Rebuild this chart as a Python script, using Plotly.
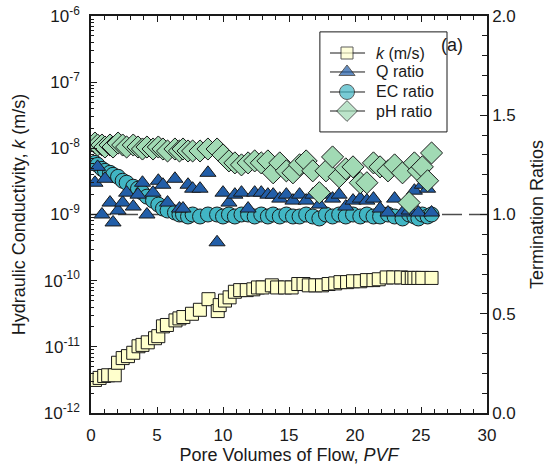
import plotly.graph_objects as go

# Hydraulic conductivity vs pore volumes of flow
k_pvf = [0.3, 0.65, 1.0, 1.3, 1.8, 2.05, 2.4, 2.8, 3.2, 3.6,
         3.9, 4.3, 4.85, 5.1, 5.45, 5.75, 6.4, 6.7, 7.0, 7.65,
         8.25, 8.9, 9.6, 9.75, 10.15, 10.5, 10.9, 11.3, 11.8, 12.3,
         12.65, 13.0, 13.7, 14.1, 14.7, 15.2, 15.7, 16.1, 16.5, 17.0,
         17.5, 18.0, 18.5, 18.9, 19.4, 19.85, 20.4, 20.9, 21.4, 21.8,
         22.4, 22.9, 23.5, 24.0, 24.3, 24.5, 24.8, 25.1, 25.8]
k_values = [3.16e-12, 3.39e-12, 3.63e-12, 3.72e-12, 3.72e-12, 5.75e-12, 6.76e-12, 7.24e-12, 8.13e-12, 1.02e-11,
            1.07e-11, 1.17e-11, 1.35e-11, 1.45e-11, 2.04e-11, 2.14e-11, 2.51e-11, 2.69e-11, 2.82e-11, 3.16e-11,
            3.63e-11, 5.25e-11, 3.47e-11, 4.27e-11, 5.0e-11, 5.6e-11, 6.8e-11, 7.2e-11, 7.2e-11, 7.4e-11,
            7.9e-11, 7.9e-11, 8.5e-11, 7.9e-11, 7.9e-11, 7.9e-11, 8.9e-11, 8.9e-11, 8.5e-11, 8.5e-11,
            8.5e-11, 8.9e-11, 9.1e-11, 9.5e-11, 9.5e-11, 9.8e-11, 9.8e-11, 1.02e-10, 1.02e-10, 1.05e-10,
            1.12e-10, 1.12e-10, 1.12e-10, 1.10e-10, 1.10e-10, 1.10e-10, 1.10e-10, 1.10e-10, 1.10e-10]

# Termination ratios (outflow/inflow) vs pore volumes of flow
ratio_pvf = [0.3, 0.5, 0.83, 1.06, 1.44, 1.67, 2.05, 2.4, 2.7, 3.2,
             3.56, 3.9, 4.24, 4.7, 5.1, 5.45, 5.8, 6.36, 6.7, 6.97,
             7.35, 7.7, 8.26, 8.86, 9.55, 10.0, 10.45, 10.9, 11.4, 11.9,
             12.4, 12.9, 13.4, 13.8, 14.3, 14.8, 15.3, 15.8, 16.3, 16.8,
             17.3, 17.8, 18.3, 18.8, 19.3, 19.85, 20.4, 20.9, 21.4, 21.9,
             22.5, 23.0, 23.6, 24.1, 24.5, 24.8, 25.1, 25.5, 25.8]
q_ratio = [1.16, 1.24, 1.00, 1.18, 1.06, 0.96, 1.02, 1.06, 1.11, 1.04,
           1.10, 1.16, 1.00, 1.11, 1.17, 1.15, 1.06, 1.18, 1.03, 1.03,
           1.15, 1.13, 1.13, 1.21, 0.86, 1.11, 1.06, 1.10, 1.11, 1.03,
           1.11, 1.11, 1.10, 1.10, 1.08, 1.10, 1.07, 1.10, 1.07, 1.10,
           1.05, 1.10, 1.08, 1.10, 1.04, 1.07, 1.08, 1.07, 1.08, 1.03,
           1.01, 1.08, 1.01, 1.02, 1.12, 1.01, 1.15, 1.13, 1.01]
ec_ratio = [1.26, 1.25, 1.23, 1.22, 1.21, 1.20, 1.19, 1.17, 1.16, 1.14,
            1.13, 1.11, 1.09, 1.07, 1.05, 1.03, 1.02, 1.01, 1.00, 1.00,
            0.99, 1.00, 0.99, 1.00, 1.00, 0.99, 1.00, 0.99, 1.00, 1.00,
            0.99, 1.00, 0.99, 1.00, 0.99, 1.00, 0.99, 0.99, 1.00, 0.99,
            0.98, 1.00, 0.99, 1.00, 0.99, 1.00, 0.99, 1.00, 0.99, 0.99,
            1.00, 0.99, 0.98, 1.00, 0.99, 0.98, 1.00, 0.99, 1.00]
ph_ratio = [1.36, 1.35, 1.35, 1.34, 1.35, 1.34, 1.36, 1.35, 1.34, 1.35,
            1.34, 1.33, 1.34, 1.33, 1.34, 1.33, 1.32, 1.33, 1.32, 1.33,
            1.32, 1.32, 1.32, 1.33, 1.33, 1.30, 1.27, 1.26, 1.25, 1.26,
            1.27, 1.26, 1.27, 1.21, 1.26, 1.22, 1.21, 1.25, 1.27, 1.22,
            1.11, 1.22, 1.29, 1.19, 1.23, 1.24, 1.16, 1.16, 1.26, 1.24,
            1.22, 1.25, 1.21, 1.06, 1.26, 1.22, 1.24, 1.17, 1.31]

k_tick_exp = [-12, -11, -10, -9, -8, -7, -6]
x_ticks = [0, 5, 10, 15, 20, 25, 30]
ratio_ticks = [0.0, 0.5, 1.0, 1.5, 2.0]

legend_keys = ["k", "Q", "EC", "pH"]
legend_labels = ["<i>k</i> (m/s)", "Q ratio", "EC ratio", "pH ratio"]

FONT = "Liberation Sans, Arial, sans-serif"
INK = "#1a1a1a"
EDGE = dict(color="#1a1a1a", width=1)

series_style = {
    "k": dict(symbol="square", size=13, color="#ffffcc"),
    "Q": dict(symbol="triangle-up", size=14, color="#225ea8"),
    "EC": dict(symbol="circle", size=15, color="#41b6c4"),
    "pH": dict(symbol="diamond", size=17, color="#a1dab4"),
}

fig = go.Figure()

fig.add_trace(go.Scatter(x=k_pvf, y=k_values, mode="markers", yaxis="y",
                         marker=dict(**series_style["k"], line=EDGE), showlegend=False))
fig.add_trace(go.Scatter(x=ratio_pvf, y=ec_ratio, mode="markers", yaxis="y2",
                         marker=dict(**series_style["EC"], line=EDGE), showlegend=False))
fig.add_trace(go.Scatter(x=ratio_pvf, y=q_ratio, mode="markers", yaxis="y2",
                         marker=dict(**series_style["Q"], line=EDGE), showlegend=False))
fig.add_trace(go.Scatter(x=ratio_pvf, y=ph_ratio, mode="markers", yaxis="y2",
                         marker=dict(**series_style["pH"], line=EDGE), showlegend=False))

# ratio = 1 reference line
fig.add_shape(type="line", xref="x", yref="y2", x0=0, x1=30, y0=1.0, y1=1.0,
              line=dict(color="#4d4d4d", width=1.5, dash="20px,7px"), layer="below")

# boxed key in the upper right of the plot (paper-fraction layout)
box_x0, box_x1, box_y0, box_y1 = 0.578, 0.899, 0.708, 0.960
key_x0, key_xm, key_x1, text_x = 0.6035, 0.6465, 0.692, 0.7146
row_y = [0.9068, 0.859, 0.8086, 0.7607]

fig.add_shape(type="rect", xref="paper", yref="paper", x0=box_x0, x1=box_x1, y0=box_y0, y1=box_y1,
              line=dict(color=INK, width=1), fillcolor="rgba(0,0,0,0)", layer="below")
for key, label, ry in zip(legend_keys, legend_labels, row_y):
    fig.add_shape(type="line", xref="paper", yref="paper", x0=key_x0, x1=key_x1, y0=ry, y1=ry,
                  line=dict(color=INK, width=1), layer="below")
    fig.add_annotation(text=label, xref="paper", yref="paper", x=text_x, y=ry,
                       xanchor="left", yanchor="middle", showarrow=False,
                       font=dict(family=FONT, size=16, color=INK))
fig.add_trace(go.Scatter(
    x=[key_xm] * len(legend_keys), y=row_y, xaxis="x3", yaxis="y3", mode="markers",
    marker=dict(symbol=[series_style[k]["symbol"] for k in legend_keys],
                size=[12, 14, 15, 16],
                color=[series_style[k]["color"] for k in legend_keys], line=EDGE),
    showlegend=False, hoverinfo="skip"))

fig.add_annotation(text="(a)", xref="paper", yref="paper", x=0.944, y=0.957,
                   showarrow=False, font=dict(family=FONT, size=18, color=INK))

minor_log = [m * 10.0 ** e for e in range(-12, -6) for m in range(2, 10)]

axis_common = dict(showline=True, linecolor=INK, linewidth=1.5, ticks="inside",
                   tickcolor=INK, tickwidth=1, showgrid=False, zeroline=False,
                   automargin=False,
                   tickfont=dict(family=FONT, size=17, color=INK))

fig.update_layout(
    width=548, height=473,
    margin=dict(l=91, r=61, t=16, b=60),
    paper_bgcolor="white", plot_bgcolor="white",
    font=dict(family=FONT, color=INK),
    showlegend=False,
    xaxis=dict(**axis_common, range=[0, 30], tickvals=x_ticks, ticklen=6, mirror="ticks",
               ticklabelstandoff=6,
               minor=dict(ticks="inside", dtick=1, ticklen=4, tickcolor=INK),
               title=dict(text="Pore Volumes of Flow, <i>PVF</i>", font=dict(family=FONT, size=18, color=INK), standoff=3)),
    yaxis=dict(**axis_common, type="log", range=[-12, -6], ticklen=6,
               ticklabelstandoff=6,
               tickvals=[10.0 ** e for e in k_tick_exp],
               ticktext=[f"10<sup>{e}</sup>" for e in k_tick_exp],
               minor=dict(ticks="inside", tickvals=minor_log, ticklen=3, tickcolor=INK),
               title=dict(text="Hydraulic Conductivity, <i>k</i> (m/s)", font=dict(family=FONT, size=18, color=INK), standoff=13)),
    yaxis2=dict(**axis_common, overlaying="y", side="right", range=[0, 2], ticklen=7,
                tickvals=ratio_ticks, ticktext=[f"{v:.1f}" for v in ratio_ticks],
                minor=dict(ticks="inside", dtick=0.1, ticklen=5, tickcolor=INK),
                title=dict(text="Termination Ratios", font=dict(family=FONT, size=18, color=INK), standoff=16)),
    xaxis3=dict(overlaying="x", range=[0, 1], visible=False, fixedrange=True),
    yaxis3=dict(overlaying="y", range=[0, 1], visible=False, fixedrange=True),
)

fig.write_html("out.html")
